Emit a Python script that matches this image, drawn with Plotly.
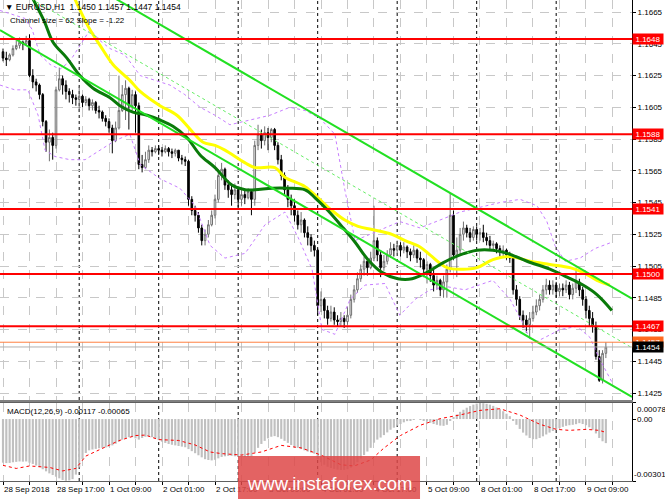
import plotly.graph_objects as go

# ---------------- EURUSD H1 candles (bar 0 = 28 Sep 2018 01:00) ----------------
opens = [1.1640, 1.1636, 1.1635, 1.1638, 1.1642, 1.1644, 1.1646, 1.1645, 1.1647, 1.1625,
         1.1621, 1.1619, 1.1613, 1.1596, 1.1583, 1.1586, 1.1581, 1.1616, 1.1623, 1.1619,
         1.1615, 1.1613, 1.1611, 1.1610, 1.1612, 1.1608, 1.1610, 1.1606, 1.1608, 1.1603,
         1.1602, 1.1598, 1.1596, 1.1592, 1.1584, 1.1592, 1.1603, 1.1613, 1.1617, 1.1606,
         1.1613, 1.1606, 1.1569, 1.1567, 1.1572, 1.1578, 1.1577, 1.1579, 1.1578, 1.1577,
         1.1579, 1.1577, 1.1576, 1.1578, 1.1573, 1.1572, 1.1571, 1.1547, 1.1540, 1.1537,
         1.1529, 1.1521, 1.1525, 1.1531, 1.1537, 1.1547, 1.1562, 1.1566, 1.1556, 1.1553,
         1.1550, 1.1553, 1.1547, 1.1550, 1.1548, 1.1552, 1.1547, 1.1581, 1.1588, 1.1584,
         1.1589, 1.1586, 1.1591, 1.1581, 1.1572, 1.1562, 1.1553, 1.1547, 1.1543, 1.1537,
         1.1531, 1.1534, 1.1526, 1.1523, 1.1518, 1.1515, 1.1480, 1.1484, 1.1477, 1.1472,
         1.1476, 1.1471, 1.1470, 1.1472, 1.1470, 1.1474, 1.1484, 1.1490, 1.1497, 1.1503,
         1.1508, 1.1504, 1.1510, 1.1521, 1.1512, 1.1504, 1.1508, 1.1512, 1.1516, 1.1515,
         1.1518, 1.1515, 1.1517, 1.1514, 1.1512, 1.1515, 1.1510, 1.1509, 1.1503, 1.1506,
         1.1499, 1.1493, 1.1496, 1.1490, 1.1495, 1.1503, 1.1537, 1.1512, 1.1515, 1.1525,
         1.1529, 1.1526, 1.1523, 1.1528, 1.1525, 1.1526, 1.1523, 1.1521, 1.1518, 1.1519,
         1.1516, 1.1514, 1.1515, 1.1512, 1.1510, 1.1490, 1.1484, 1.1474, 1.1471, 1.1468,
         1.1472, 1.1476, 1.1480, 1.1484, 1.1490, 1.1493, 1.1490, 1.1493, 1.1489, 1.1491,
         1.1490, 1.1493, 1.1487, 1.1491, 1.1495, 1.1490, 1.1484, 1.1477, 1.1472, 1.1467,
         1.1448, 1.1433, 1.1450]
highs = [1.1642, 1.1640, 1.1639, 1.1644, 1.1647, 1.1649, 1.1647, 1.1650, 1.1651, 1.1629,
         1.1623, 1.1620, 1.1614, 1.1597, 1.1591, 1.1589, 1.1618, 1.1630, 1.1625, 1.1622,
         1.1617, 1.1616, 1.1613, 1.1618, 1.1613, 1.1612, 1.1611, 1.1610, 1.1609, 1.1606,
         1.1603, 1.1600, 1.1598, 1.1594, 1.1596, 1.1625, 1.1619, 1.1622, 1.1618, 1.1616,
         1.1615, 1.1608, 1.1575, 1.1577, 1.1581, 1.1580, 1.1581, 1.1581, 1.1580, 1.1581,
         1.1580, 1.1579, 1.1579, 1.1578, 1.1575, 1.1574, 1.1572, 1.1549, 1.1543, 1.1539,
         1.1531, 1.1528, 1.1534, 1.1540, 1.1550, 1.1566, 1.1570, 1.1567, 1.1559, 1.1556,
         1.1557, 1.1555, 1.1553, 1.1553, 1.1554, 1.1553, 1.1584, 1.1594, 1.1591, 1.1593,
         1.1592, 1.1592, 1.1592, 1.1583, 1.1575, 1.1564, 1.1556, 1.1550, 1.1547, 1.1540,
         1.1539, 1.1535, 1.1530, 1.1525, 1.1521, 1.1516, 1.1489, 1.1485, 1.1480, 1.1480,
         1.1479, 1.1474, 1.1476, 1.1474, 1.1479, 1.1487, 1.1493, 1.1501, 1.1506, 1.1511,
         1.1510, 1.1514, 1.1543, 1.1523, 1.1515, 1.1512, 1.1515, 1.1520, 1.1519, 1.1521,
         1.1520, 1.1520, 1.1518, 1.1516, 1.1518, 1.1516, 1.1514, 1.1510, 1.1508, 1.1507,
         1.1503, 1.1499, 1.1497, 1.1499, 1.1506, 1.1551, 1.1540, 1.1523, 1.1529, 1.1533,
         1.1531, 1.1529, 1.1530, 1.1530, 1.1529, 1.1531, 1.1526, 1.1524, 1.1521, 1.1520,
         1.1518, 1.1518, 1.1516, 1.1514, 1.1511, 1.1493, 1.1486, 1.1477, 1.1474, 1.1476,
         1.1480, 1.1484, 1.1487, 1.1493, 1.1497, 1.1496, 1.1496, 1.1495, 1.1494, 1.1494,
         1.1496, 1.1495, 1.1494, 1.1504, 1.1497, 1.1492, 1.1486, 1.1480, 1.1476, 1.1470,
         1.1452, 1.1452, 1.1457]
lows = [1.1634, 1.1631, 1.1634, 1.1637, 1.1641, 1.1642, 1.1641, 1.1644, 1.1624, 1.1617,
        1.1615, 1.1610, 1.1593, 1.1577, 1.1571, 1.1572, 1.1579, 1.1615, 1.1613, 1.1610,
        1.1608, 1.1607, 1.1606, 1.1602, 1.1605, 1.1606, 1.1603, 1.1603, 1.1601, 1.1598,
        1.1596, 1.1593, 1.1589, 1.1576, 1.1583, 1.1591, 1.1602, 1.1597, 1.1591, 1.1603,
        1.1589, 1.1566, 1.1564, 1.1566, 1.1570, 1.1574, 1.1576, 1.1575, 1.1574, 1.1576,
        1.1574, 1.1573, 1.1574, 1.1571, 1.1569, 1.1568, 1.1543, 1.1537, 1.1533, 1.1526,
        1.1518, 1.1518, 1.1523, 1.1530, 1.1535, 1.1545, 1.1559, 1.1553, 1.1548, 1.1543,
        1.1547, 1.1542, 1.1543, 1.1544, 1.1547, 1.1537, 1.1543, 1.1578, 1.1579, 1.1581,
        1.1578, 1.1583, 1.1578, 1.1569, 1.1559, 1.1550, 1.1542, 1.1537, 1.1533, 1.1528,
        1.1526, 1.1523, 1.1518, 1.1514, 1.1511, 1.1474, 1.1476, 1.1472, 1.1468, 1.1470,
        1.1468, 1.1467, 1.1467, 1.1466, 1.1468, 1.1472, 1.1482, 1.1488, 1.1495, 1.1499,
        1.1499, 1.1503, 1.1508, 1.1508, 1.1498, 1.1502, 1.1506, 1.1510, 1.1511, 1.1513,
        1.1511, 1.1513, 1.1510, 1.1508, 1.1510, 1.1507, 1.1504, 1.1498, 1.1494, 1.1495,
        1.1489, 1.1490, 1.1486, 1.1485, 1.1485, 1.1501, 1.1509, 1.1498, 1.1512, 1.1521,
        1.1523, 1.1520, 1.1521, 1.1521, 1.1521, 1.1520, 1.1518, 1.1515, 1.1515, 1.1513,
        1.1511, 1.1511, 1.1509, 1.1507, 1.1487, 1.1480, 1.1471, 1.1466, 1.1463, 1.1460,
        1.1470, 1.1474, 1.1477, 1.1482, 1.1487, 1.1487, 1.1487, 1.1485, 1.1486, 1.1486,
        1.1488, 1.1484, 1.1484, 1.1488, 1.1486, 1.1480, 1.1472, 1.1467, 1.1463, 1.1446,
        1.1432, 1.1431, 1.1447]
closes = [1.1636, 1.1635, 1.1638, 1.1642, 1.1644, 1.1646, 1.1645, 1.1647, 1.1625, 1.1621,
          1.1619, 1.1613, 1.1596, 1.1583, 1.1586, 1.1581, 1.1616, 1.1623, 1.1619, 1.1615,
          1.1613, 1.1611, 1.1610, 1.1612, 1.1608, 1.1610, 1.1606, 1.1608, 1.1603, 1.1602,
          1.1598, 1.1596, 1.1592, 1.1584, 1.1592, 1.1603, 1.1613, 1.1617, 1.1606, 1.1613,
          1.1606, 1.1569, 1.1567, 1.1572, 1.1578, 1.1577, 1.1579, 1.1578, 1.1577, 1.1579,
          1.1577, 1.1576, 1.1578, 1.1573, 1.1572, 1.1571, 1.1547, 1.1540, 1.1537, 1.1529,
          1.1521, 1.1525, 1.1531, 1.1537, 1.1547, 1.1562, 1.1566, 1.1556, 1.1553, 1.1550,
          1.1553, 1.1547, 1.1550, 1.1548, 1.1552, 1.1547, 1.1581, 1.1588, 1.1584, 1.1589,
          1.1586, 1.1591, 1.1581, 1.1572, 1.1562, 1.1553, 1.1547, 1.1543, 1.1537, 1.1531,
          1.1534, 1.1526, 1.1523, 1.1518, 1.1515, 1.1480, 1.1484, 1.1477, 1.1472, 1.1476,
          1.1471, 1.1470, 1.1472, 1.1470, 1.1474, 1.1484, 1.1490, 1.1497, 1.1503, 1.1508,
          1.1504, 1.1510, 1.1521, 1.1512, 1.1504, 1.1508, 1.1512, 1.1516, 1.1515, 1.1518,
          1.1515, 1.1517, 1.1514, 1.1512, 1.1515, 1.1510, 1.1509, 1.1503, 1.1506, 1.1499,
          1.1493, 1.1496, 1.1490, 1.1495, 1.1503, 1.1537, 1.1512, 1.1515, 1.1525, 1.1529,
          1.1526, 1.1523, 1.1528, 1.1525, 1.1526, 1.1523, 1.1521, 1.1518, 1.1519, 1.1516,
          1.1514, 1.1515, 1.1512, 1.1510, 1.1490, 1.1484, 1.1474, 1.1471, 1.1468, 1.1472,
          1.1476, 1.1480, 1.1484, 1.1490, 1.1493, 1.1490, 1.1493, 1.1489, 1.1491, 1.1490,
          1.1493, 1.1487, 1.1491, 1.1495, 1.1490, 1.1484, 1.1477, 1.1472, 1.1467, 1.1448,
          1.1433, 1.1450, 1.1454]

# ---------------- MACD(12,26,9) ----------------
macd_hist = [-0.00212, -0.00214, -0.00213, -0.00210, -0.00208, -0.00206, -0.00207, -0.00206, -0.00212, -0.00218,
             -0.00226, -0.00234, -0.00244, -0.00254, -0.00264, -0.00272, -0.00280, -0.00288, -0.00296, -0.00300,
             -0.00298, -0.00292, -0.00270, -0.00235, -0.00195, -0.00165, -0.00152, -0.00148, -0.00145, -0.00142,
             -0.00140, -0.00138, -0.00134, -0.00128, -0.00120, -0.00110, -0.00100, -0.00092, -0.00088, -0.00088,
             -0.00094, -0.00100, -0.00092, -0.00086, -0.00085, -0.00088, -0.00095, -0.00102, -0.00110, -0.00116,
             -0.00121, -0.00125, -0.00128, -0.00131, -0.00134, -0.00137, -0.00146, -0.00156, -0.00166, -0.00176,
             -0.00186, -0.00195, -0.00199, -0.00201, -0.00198, -0.00191, -0.00184, -0.00181, -0.00179, -0.00179,
             -0.00181, -0.00183, -0.00184, -0.00185, -0.00184, -0.00182, -0.00162, -0.00140, -0.00121, -0.00106,
             -0.00094, -0.00086, -0.00083, -0.00088, -0.00096, -0.00106, -0.00116, -0.00126, -0.00133, -0.00140,
             -0.00146, -0.00152, -0.00158, -0.00163, -0.00168, -0.00195, -0.00210, -0.00222, -0.00232, -0.00238,
             -0.00242, -0.00246, -0.00248, -0.00247, -0.00244, -0.00236, -0.00225, -0.00210, -0.00192, -0.00175,
             -0.00158, -0.00140, -0.00115, -0.00100, -0.00090, -0.00078, -0.00065, -0.00052, -0.00042, -0.00032,
             -0.00024, -0.00016, -0.00010, -0.00005, -0.00002, 0.00000, -0.00003, -0.00008, -0.00012, -0.00018,
             -0.00024, -0.00028, -0.00032, -0.00033, -0.00028, -0.00005, 0.00010, 0.00022, 0.00035, 0.00045,
             0.00055, 0.00063, 0.00070, 0.00075, 0.00078, 0.00077, 0.00074, 0.00070, 0.00064, 0.00056,
             0.00048, 0.00038, 0.00026, 0.00014, -0.00008, -0.00028, -0.00048, -0.00066, -0.00080, -0.00092,
             -0.00098, -0.00098, -0.00092, -0.00084, -0.00075, -0.00066, -0.00058, -0.00050, -0.00044, -0.00038,
             -0.00033, -0.00030, -0.00028, -0.00025, -0.00020, -0.00024, -0.00030, -0.00040, -0.00052, -0.00070,
             -0.00092, -0.00108, -0.00117]
signal_x = [0, 4, 8, 14, 18, 22, 25, 32, 35, 40, 43, 47, 53, 58, 62.5, 66, 72, 78, 84, 90, 96, 102,
            106, 111, 115, 120, 126, 132, 138, 144, 150, 156, 162, 167, 171, 176, 180, 182]
signal_y = [-0.00225, -0.00240, -0.00228, -0.00235, -0.00252, -0.00240, -0.00180, -0.00128, -0.00105,
            -0.00080, -0.00078, -0.00100, -0.00104, -0.00126, -0.00160, -0.00168, -0.00175, -0.00160,
            -0.00128, -0.00140, -0.00175, -0.00222, -0.00228, -0.00199, -0.00141, -0.00080, -0.00030,
            0.00002, 0.00020, 0.00042, 0.00050, 0.00020, -0.00025, -0.00050, -0.00055, -0.00050,
            -0.00055, -0.00065]

# ---------------- moving averages ----------------
ma_yellow_x = [21.1, 25.7, 29.3, 33.2, 38.3, 41.4, 47.4, 52.5, 57.4, 60.4, 64.0, 67.0, 73.1, 76.1, 82.1,
               85.1, 91.2, 95.1, 99.3, 103.2, 107.2, 111.4, 117.4, 121.4, 125.9, 128.9, 134.0, 138.9,
               143.1, 147.9, 153.1, 159.1, 165.1, 171.2, 175.1, 179.3, 183.2]
ma_yellow_y = [1.1676, 1.1656, 1.1644, 1.1632, 1.1622, 1.1615, 1.1606, 1.1600, 1.1589, 1.1583, 1.1581,
               1.1578, 1.1570, 1.1567, 1.1567, 1.1561, 1.1555, 1.1548, 1.1540, 1.1534, 1.1530, 1.1528,
               1.1525, 1.1521, 1.1517, 1.1512, 1.1504, 1.1503, 1.1504, 1.1509, 1.1511, 1.1508, 1.1506,
               1.1504, 1.1501, 1.1496, 1.1493]
ma_green_x = [9.1, 12.5, 15.1, 19.3, 23.2, 27.2, 32.3, 35.3, 39.2, 43.5, 47.4, 51.3, 55.5, 59.5, 64.0,
              69.1, 73.1, 76.1, 81.2, 86.0, 91.2, 94.2, 98.1, 102.3, 106.3, 110.2, 114.4, 119.2, 123.5,
              128.0, 132.8, 138.0, 143.1, 147.9, 152.2, 158.2, 165.1, 170.3, 175.1, 179.3, 183.8]
ma_green_y = [1.1673, 1.1659, 1.1646, 1.1636, 1.1625, 1.1617, 1.1611, 1.1606, 1.1602, 1.1600, 1.1597,
              1.1593, 1.1586, 1.1575, 1.1567, 1.1556, 1.1553, 1.1553, 1.1554, 1.1554, 1.1553, 1.1548,
              1.1540, 1.1530, 1.1520, 1.1509, 1.1501, 1.1497, 1.1497, 1.1501, 1.1507, 1.1512, 1.1515,
              1.1515, 1.1513, 1.1508, 1.1503, 1.1498, 1.1493, 1.1487, 1.1477]

# ---------------- envelope bands (violet dashed) ----------------
band_up_x = [-0.9, 6.6, 8.8, 11.2, 14.2, 17.2, 20.2, 23.2, 26.3, 29.3, 32.3, 36.8, 41.4, 45.9, 50.4,
             54.9, 59.5, 64.0, 68.5, 74.6, 80.6, 86.6, 91.2, 95.7, 100.2, 103.2, 106.3, 110.8, 115.3,
             119.8, 125.9, 131.9, 138.0, 144.0, 150.0, 156.1, 161.2, 164.2, 166.6, 169.7, 174.2,
             178.7, 183.8]
band_up_y = [1.1666, 1.1661, 1.1654, 1.1638, 1.1632, 1.1629, 1.1634, 1.1644, 1.1654, 1.1647, 1.1642,
             1.1638, 1.1625, 1.1622, 1.1619, 1.1613, 1.1605, 1.1600, 1.1594, 1.1597, 1.1600, 1.1605,
             1.1603, 1.1598, 1.1588, 1.1553, 1.1521, 1.1525, 1.1529, 1.1533, 1.1529, 1.1534, 1.1539,
             1.1542, 1.1545, 1.1547, 1.1543, 1.1533, 1.1518, 1.1508, 1.1510, 1.1516, 1.1520]
band_dn_x = [-0.9, 3.6, 7.5, 10.6, 12.7, 15.7, 20.2, 24.8, 29.3, 33.8, 38.3, 41.4, 47.4, 53.4, 58.0,
             62.5, 67.0, 73.1, 79.1, 85.1, 89.1, 93.3, 96.3, 100.2, 104.8, 109.3, 115.3, 119.8, 124.4,
             128.9, 134.0, 139.5, 147.9, 153.1, 156.7, 159.7, 163.6, 168.2, 173.3, 177.2, 180.2, 183.8]
band_dn_y = [1.1619, 1.1616, 1.1616, 1.1600, 1.1578, 1.1574, 1.1572, 1.1572, 1.1578, 1.1584, 1.1588,
             1.1569, 1.1560, 1.1554, 1.1543, 1.1518, 1.1510, 1.1513, 1.1531, 1.1539, 1.1523, 1.1503,
             1.1465, 1.1462, 1.1484, 1.1493, 1.1494, 1.1474, 1.1484, 1.1490, 1.1492, 1.1490, 1.1496,
             1.1484, 1.1470, 1.1456, 1.1460, 1.1465, 1.1467, 1.1460, 1.1446, 1.1432]

# ---------------- regression channel (size 62, slope -1.22) ----------------
chan_x = [-0.906, 189.89]
chan_lower = [1.16537, 1.14225]
chan_mid = [1.16847, 1.14535]
chan_upper = [1.17157, 1.14845]

# ---------------- levels / axis ----------------
red_levels = [1.1648, 1.1588, 1.1541, 1.1500, 1.1467]
ask_price = 1.1457
bid_price = 1.1454
price_ticks = [1.1665, 1.1645, 1.1625, 1.1605, 1.1585, 1.1565, 1.1545, 1.1525,
               1.1505, 1.1485, 1.1465, 1.1445, 1.1425]
macd_max, macd_min = 0.00078, -0.00301
time_labels = ["28 Sep 2018", "28 Sep 17:00", "1 Oct 09:00", "2 Oct 01:00", "2 Oct 17:00",
               "3 Oct 09:00", "4 Oct 01:00", "4 Oct 17:00", "5 Oct 09:00", "8 Oct 01:00",
               "8 Oct 17:00", "9 Oct 09:00"]
day_start_bars = [23, 47, 71, 95, 119, 143, 167]

bars = list(range(len(closes)))
grid_bars = list(range(0, 190, 8))
grid_text = [time_labels[k // 2] if (k % 2 == 0 and k // 2 < len(time_labels)) else "" for k in range(len(grid_bars))]

FONT = "Liberation Sans, Arial, sans-serif"
GRID = "#c8c8c8"

fig = go.Figure()

fig.add_trace(go.Candlestick(
    x=bars, open=opens, high=highs, low=lows, close=closes,
    increasing=dict(line=dict(color="#707070", width=1), fillcolor="#ffffff"),
    decreasing=dict(line=dict(color="#000000", width=1), fillcolor="#000000"),
    whiskerwidth=0, showlegend=False, hoverinfo="skip", xaxis="x", yaxis="y"))

for bx, by in ((band_up_x, band_up_y), (band_dn_x, band_dn_y)):
    fig.add_trace(go.Scatter(x=bx, y=by, mode="lines", line=dict(color="#c77dff", width=1, dash="3px,3px"),
                             showlegend=False, hoverinfo="skip", xaxis="x", yaxis="y"))

fig.add_trace(go.Scatter(x=ma_yellow_x, y=ma_yellow_y, mode="lines", line=dict(color="#ffff00", width=3, shape="spline"),
                         showlegend=False, hoverinfo="skip", xaxis="x", yaxis="y"))
fig.add_trace(go.Scatter(x=ma_green_x, y=ma_green_y, mode="lines", line=dict(color="#0a7a0a", width=3, shape="spline"),
                         showlegend=False, hoverinfo="skip", xaxis="x", yaxis="y"))

fig.add_trace(go.Scatter(x=chan_x, y=chan_mid, mode="lines", line=dict(color="#66ee66", width=1, dash="3px,3px"),
                         showlegend=False, hoverinfo="skip", xaxis="x", yaxis="y"))
for cy in (chan_lower, chan_upper):
    fig.add_trace(go.Scatter(x=chan_x, y=cy, mode="lines", line=dict(color="#22e022", width=2),
                             showlegend=False, hoverinfo="skip", xaxis="x", yaxis="y"))

# MACD panel
fig.add_trace(go.Bar(x=bars, y=macd_hist, marker=dict(color="#c0c0c0", line=dict(width=0)),
                     showlegend=False, hoverinfo="skip", xaxis="x2", yaxis="y2"))
fig.add_trace(go.Scatter(x=signal_x, y=signal_y, mode="lines", line=dict(color="#ff0000", width=1, dash="dot"),
                         showlegend=False, hoverinfo="skip", xaxis="x2", yaxis="y2"))

shapes = []
for lvl in red_levels:
    shapes.append(dict(type="line", xref="x domain", x0=0, x1=1, yref="y", y0=lvl, y1=lvl,
                       line=dict(color="#ff0000", width=2), layer="above"))
shapes.append(dict(type="line", xref="x domain", x0=0, x1=1, yref="y", y0=ask_price, y1=ask_price,
                   line=dict(color="#ff8040", width=1), layer="above"))
shapes.append(dict(type="line", xref="x domain", x0=0, x1=1, yref="y", y0=bid_price, y1=bid_price,
                   line=dict(color="#b0b0b0", width=1), layer="above"))
for b in day_start_bars:
    for yr in ("y domain", "y2 domain"):
        shapes.append(dict(type="line", xref="x", x0=b, x1=b, yref=yr, y0=0, y1=1,
                           line=dict(color="#000000", width=1, dash="dot"), layer="below"))
# watermark box
shapes.append(dict(type="rect", xref="paper", yref="paper", x0=0.3766, x1=0.6646, y0=-0.0374, y1=0.052,
                   fillcolor="rgba(222,72,72,0.85)", line=dict(width=0), layer="above"))

annotations = []
for lvl in red_levels:
    annotations.append(dict(x=1, xref="paper", y=lvl, yref="y", xanchor="left", yanchor="middle",
                            text=f"{lvl:.4f}", showarrow=False, bgcolor="#ff0000", width=30, height=10,
                            font=dict(color="white", size=8, family=FONT), borderpad=0))
annotations.append(dict(x=1, xref="paper", y=ask_price, yref="y", xanchor="left", yanchor="middle",
                        text=f"{ask_price:.4f}", showarrow=False, bgcolor="#ff6a20", width=30, height=10,
                        font=dict(color="white", size=8, family=FONT), borderpad=0))
annotations.append(dict(x=1, xref="paper", y=bid_price, yref="y", xanchor="left", yanchor="middle",
                        text=f"{bid_price:.4f}", showarrow=False, bgcolor="#000000", width=30, height=10,
                        font=dict(color="white", size=8, family=FONT), borderpad=0))
annotations.append(dict(x=1, xref="paper", y=macd_max, yref="y2", xanchor="left", yanchor="top",
                        text=f"{macd_max:.5f}", showarrow=False, xshift=3,
                        font=dict(color="black", size=8, family=FONT)))
annotations.append(dict(x=1, xref="paper", y=0, yref="y2", xanchor="left", yanchor="middle",
                        text="0.00", showarrow=False, xshift=3, font=dict(color="black", size=8, family=FONT)))
annotations.append(dict(x=1, xref="paper", y=macd_min, yref="y2", xanchor="left", yanchor="bottom",
                        text=f"{macd_min:.5f}", showarrow=False, xshift=0,
                        font=dict(color="black", size=8, family=FONT)))
annotations.append(dict(x=0.004, xref="paper", y=0.9854, yref="paper", xanchor="left", yanchor="middle",
                        text=f"▼ EURUSD,H1  {opens[-1]:.4f} {highs[-1]:.4f} {lows[-1]:.4f} {closes[-1]:.4f}",
                        showarrow=False, font=dict(color="black", size=8.5, family=FONT)))
annotations.append(dict(x=0.012, xref="paper", y=0.9584, yref="paper", xanchor="left", yanchor="middle",
                        text="Channel size = 62 Slope = -1.22", showarrow=False,
                        font=dict(color="black", size=8, family=FONT)))
annotations.append(dict(x=0.008, xref="paper", y=0.1455, yref="paper", xanchor="left", yanchor="middle",
                        text=f"MACD(12,26,9) {macd_hist[-1]:.5f} {signal_y[-1]:.5f}", showarrow=False,
                        font=dict(color="black", size=8, family=FONT)))
annotations.append(dict(x=0.522, xref="paper", y=-0.006, yref="paper", xanchor="center", yanchor="middle",
                        text="www.instaforex.com", showarrow=False,
                        font=dict(color="white", size=18.5, family=FONT)))

fig.update_layout(
    width=665, height=499,
    margin=dict(l=0, r=33, t=0, b=18),
    paper_bgcolor="white", plot_bgcolor="white",
    font=dict(family=FONT, size=8, color="black"),
    showlegend=False, bargap=0.35,
    xaxis=dict(domain=[0, 1], anchor="y", range=[-0.906, 189.89], tickvals=grid_bars,
               showticklabels=False, ticks="", showgrid=True, gridcolor=GRID, griddash="dash", gridwidth=1,
               zeroline=False, showline=True, linecolor="#808080", linewidth=2,
               rangeslider=dict(visible=False)),
    yaxis=dict(domain=[0.1684, 1], anchor="x", range=[1.14206, 1.16726], side="right",
               tickvals=price_ticks, tickformat=".4f", ticks="outside", ticklen=3, tickcolor="black",
               showgrid=True, gridcolor=GRID, griddash="dash", gridwidth=1, zeroline=False,
               showline=True, mirror=True, linecolor="black", linewidth=1,
               tickfont=dict(size=8, family=FONT, color="black")),
    xaxis2=dict(domain=[0, 1], anchor="y2", matches="x", range=[-0.906, 189.89], tickvals=grid_bars,
                ticktext=grid_text, ticks="outside", ticklen=3, tickcolor="black", tickangle=0,
                ticklabelposition="outside right", showgrid=True, gridcolor=GRID, griddash="dash",
                zeroline=False, showline=True, mirror=True, linecolor="#606060", linewidth=1,
                tickfont=dict(size=8, family=FONT, color="black")),
    yaxis2=dict(domain=[0, 0.1622], anchor="x2", range=[macd_min, macd_max], side="right",
                tickvals=[macd_max, 0, macd_min], showticklabels=False, ticks="outside", ticklen=3,
                tickcolor="black", showgrid=False, zeroline=False, showline=True, mirror=True,
                linecolor="black", linewidth=1),
    shapes=shapes, annotations=annotations,
)

fig.write_html("out.html", config={"displayModeBar": False},
               post_script="document.body.style.margin='0';document.body.style.overflow='hidden';")
